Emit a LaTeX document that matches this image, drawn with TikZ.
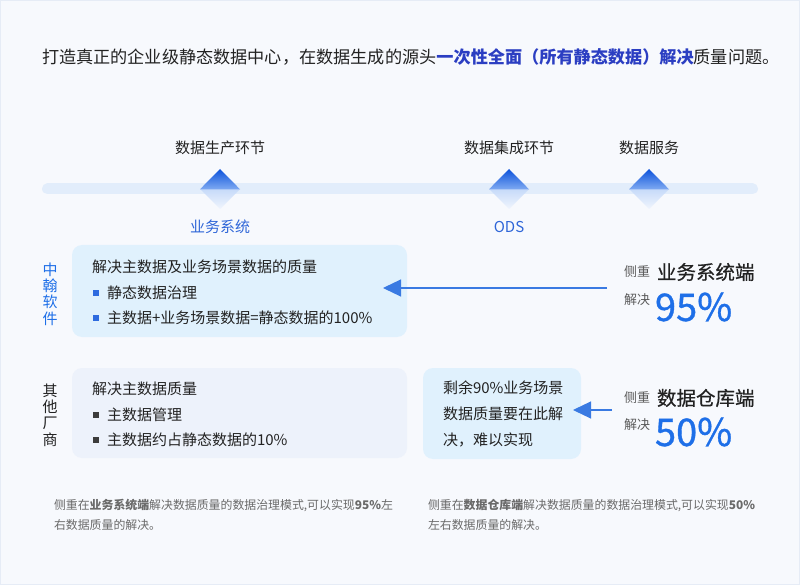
\documentclass[tikz,border=0pt]{standalone}
\usepackage{fontspec}
\setmainfont{Noto Sans CJK SC}
\newfontfamily\numfont[FakeBold=0.9]{Noto Sans CJK SC}
\newfontfamily\midfont[FakeBold=0.5]{Noto Sans CJK SC}
\usetikzlibrary{arrows.meta}
\definecolor{bg}{HTML}{F7F9FD}
\definecolor{edge}{HTML}{E6ECF6}
\definecolor{txt}{HTML}{222222}
\definecolor{hl}{HTML}{2B3EC2}
\definecolor{blue1}{HTML}{2F66D8}
\definecolor{blue2}{HTML}{1E6FE8}
\definecolor{barc}{HTML}{E2EDFB}
\definecolor{dtop}{HTML}{0C52DC}
\definecolor{dmid}{HTML}{7FAAF1}
\definecolor{dlow}{HTML}{C6DAF9}
\definecolor{dfade}{HTML}{F0F5FD}
\definecolor{boxa}{HTML}{E0F1FD}
\definecolor{boxb}{HTML}{EDF2FB}
\definecolor{bula}{HTML}{2E6BDF}
\definecolor{bulb}{HTML}{3C3C3C}
\definecolor{grey}{HTML}{5A5A5A}
\definecolor{foot}{HTML}{6A6A6A}
\definecolor{arr}{HTML}{3A7AE2}
\tikzset{
  every node/.style={inner sep=0pt, outer sep=0pt},
  lbl/.style={font=\fontsize{15}{18}\selectfont, text=txt},
  bluelbl/.style={font=\fontsize{15}{18}\selectfont, text=blue1},
  boxtxt/.style={font=\fontsize{15}{18}\selectfont, text=txt, anchor=west},
  infobox/.style={rounded corners=10pt, anchor=north west, draw=none},
  bullet/.style={minimum size=6pt, inner sep=0pt},
  small/.style={font=\fontsize{13}{16}\selectfont, text=grey, anchor=west},
  mid/.style={font=\midfont\fontsize{19.5}{22}\selectfont, text=txt, anchor=west},
  big/.style={font=\numfont\fontsize{38}{40}\selectfont, text=blue2, anchor=west},
  vert/.style={font=\fontsize{15}{16.3}\selectfont, align=center},
  footer/.style={font=\fontsize{11.9}{20}\selectfont, text=foot, anchor=north west, align=left},
  arrline/.style={draw=arr, line width=1.2pt, -{Triangle[width=17pt,length=18pt]}}
}
\begin{document}
\begin{tikzpicture}[x=1pt,y=-1pt]
\fill[bg] (0,0) rectangle (800,585);
\draw[edge, line width=1pt] (0.5,0.5) rectangle (799.5,584.5);
\useasboundingbox (0,0) rectangle (800,585);

% title
\node[anchor=west, font=\fontsize{17.15}{20}\selectfont, text=txt] (title) at (42,57)
  {打造真正的企业级静态数据中心，在数据生成的源头\textcolor{hl}{\textbf{一次性全面（所有静态数据）解决}}质量问题。};

% timeline
\coordinate (t0) at (47.5,189);
\coordinate (t1) at (752.5,189);
\draw[barc, line width=11pt, line cap=round] (t0) -- (t1);

\foreach \cx/\nm in {220/d1, 509/d2, 649/d3}{
  \coordinate (\nm) at (\cx,189);
  \begin{scope}[shift={(\nm)}]
    \shade[top color=dlow, bottom color=dfade] (-20,0) -- (0,20) -- (20,0) -- cycle;
    \shade[top color=dtop, bottom color=dmid] (-20,0.3) -- (0,-20) -- (20,0.3) -- cycle;
  \end{scope}
}

\node[lbl] (s1) at (220,148) {数据生产环节};
\node[lbl] (s2) at (509,148) {数据集成环节};
\node[lbl] (s3) at (649,148) {数据服务};
\node[bluelbl] (u1) at (220,227) {业务系统};
\node[bluelbl] (u2) at (509,227) {ODS};

% row 1
\node[vert, text=blue2] (v1) at (50,294) {中\\翰\\软\\件};
\node[infobox, fill=boxa, minimum width=335pt, minimum height=92pt] (b1) at (72,245) {};
\node[boxtxt] (b1l1) at (92,267) {解决主数据及业务场景数据的质量};
\node[bullet, fill=bula] (b1p1) at (96,293) {};
\node[boxtxt] (b1l2) at (107,293) {静态数据治理};
\node[bullet, fill=bula] (b1p2) at (96,318) {};
\node[boxtxt] (b1l3) at (107,318) {主数据+业务场景数据=静态数据的100\%};

\node[small] (c1) at (624,272) {侧重};
\node[mid] (m1) at (657,272) {业务系统端};
\node[small] (c2) at (624,300) {解决};
\node[big] (p1) at (655,307) {95\%};
\coordinate (a1s) at (607,288);
\coordinate (a1e) at (383,288);
\draw[arrline] (a1s) -- (a1e);

% row 2
\node[vert, text=txt] (v2) at (50,415) {其\\他\\厂\\商};
\node[infobox, fill=boxb, minimum width=335pt, minimum height=90pt] (b2) at (72,368) {};
\node[boxtxt] (b2l1) at (92,389) {解决主数据质量};
\node[bullet, fill=bulb] (b2p1) at (96,415) {};
\node[boxtxt] (b2l2) at (107,415) {主数据管理};
\node[bullet, fill=bulb] (b2p2) at (96,440) {};
\node[boxtxt] (b2l3) at (107,440) {主数据约占静态数据的10\%};

\node[infobox, fill=boxa, minimum width=158pt, minimum height=91pt] (b3) at (423,368) {};
\node[boxtxt] (b3l1) at (443,388) {剩余90\%业务场景};
\node[boxtxt] (b3l2) at (443,414) {数据质量要在此解};
\node[boxtxt] (b3l3) at (443,440) {决，难以实现};

\node[small] (c3) at (624,398) {侧重};
\node[mid] (m2) at (657,398) {数据仓库端};
\node[small] (c4) at (624,425) {解决};
\node[big] (p2) at (655,432) {50\%};
\coordinate (a2s) at (612,410);
\coordinate (a2e) at (573,410);
\draw[arrline] (a2s) -- (a2e);

% footer
\node[footer] (f1) at (54,499) {侧重在\textbf{业务系统端}解决数据质量的数据治理模式,可以实现\textbf{95\%}左\\右数据质量的解决。};
\node[footer] (f2) at (428,499) {侧重在\textbf{数据仓库端}解决数据质量的数据治理模式,可以实现\textbf{50\%}\\左右数据质量的解决。};
\end{tikzpicture}
\end{document}
